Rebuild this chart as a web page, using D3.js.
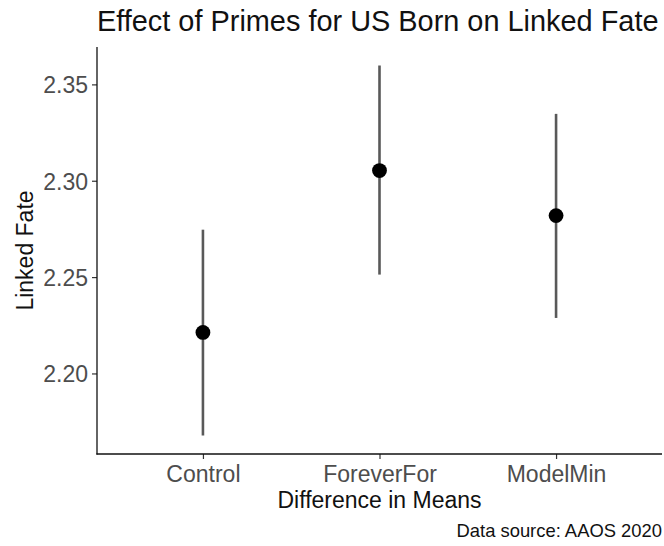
<!DOCTYPE html>
<html>
<head>
<meta charset="utf-8">
<style>
  body { margin: 0; background: #fff; }
  text { font-family: "Liberation Sans", Arial, Helvetica, sans-serif; }
</style>
</head>
<body>
<div id="vis"></div>
<script src="https://cdn.jsdelivr.net/npm/d3@7/dist/d3.min.js"></script>
<script>
  // estimates
  var groups = ['Control', 'ForeverFor', 'ModelMin'];
  var means  = [2.2213, 2.3053, 2.2819];
  var lower  = [2.1678, 2.2513, 2.2288];
  var upper  = [2.2746, 2.3598, 2.3347];
  var yTicks = [2.20, 2.25, 2.30, 2.35];

  var width = 664, height = 546;
  var m = {top: 47, right: 2, bottom: 92, left: 97};
  var w = width - m.left - m.right, h = height - m.top - m.bottom;

  var svg = d3.select('#vis').append('svg')
    .attr('width', width).attr('height', height);

  // discrete scale with 0.6 unit padding each side, like ggplot
  var x = d3.scalePoint().domain(groups).range([0, w]).padding(0.6);

  var lo = d3.min(lower), hi = d3.max(upper), pad = (hi - lo) * 0.05;
  var y = d3.scaleLinear().domain([lo - pad, hi + pad]).range([h, 0]);

  var g = svg.append('g').attr('transform', 'translate(' + m.left + ',' + m.top + ')');

  // y axis
  var yAxis = g.append('g').call(d3.axisLeft(y).tickValues(yTicks).tickFormat(d3.format('.2f')).tickSize(5).tickPadding(4));
  yAxis.select('.domain').remove();
  yAxis.selectAll('line').attr('stroke', '#333').attr('stroke-width', 1.2);
  yAxis.selectAll('text').attr('fill', '#4d4d4d').style('font-size', '23px').attr('dy', '0.36em');

  // x axis
  var xAxis = g.append('g').attr('transform', 'translate(0,' + h + ')')
    .call(d3.axisBottom(x).tickSize(5).tickPadding(6));
  xAxis.select('.domain').remove();
  xAxis.selectAll('line').attr('stroke', '#333').attr('stroke-width', 1.2);
  xAxis.selectAll('text').attr('fill', '#4d4d4d').style('font-size', '23px').attr('dy', '0.72em');

  // axis lines
  g.append('line').attr('x1', 0).attr('x2', 0).attr('y1', 0).attr('y2', h + 0.6)
    .attr('stroke', '#111').attr('stroke-width', 1.3);
  g.append('line').attr('x1', -0.6).attr('x2', w).attr('y1', h).attr('y2', h)
    .attr('stroke', '#111').attr('stroke-width', 1.3);

  // error bars
  g.selectAll('.bar').data(groups).enter().append('line')
    .attr('class', 'bar')
    .attr('x1', function(d){ return x(d); })
    .attr('x2', function(d){ return x(d); })
    .attr('y1', function(d, i){ return y(lower[i]); })
    .attr('y2', function(d, i){ return y(upper[i]); })
    .attr('stroke', '#595959').attr('stroke-width', 2.6);

  // points
  g.selectAll('.pt').data(groups).enter().append('circle')
    .attr('class', 'pt')
    .attr('cx', function(d){ return x(d); })
    .attr('cy', function(d, i){ return y(means[i]); })
    .attr('r', 7.4).attr('fill', '#000');

  // titles
  svg.append('text').attr('x', m.left).attr('y', 31)
    .style('font-size', '28.9px').attr('fill', '#111')
    .text('Effect of Primes for US Born on Linked Fate');

  svg.append('text').attr('transform', 'translate(33,' + (m.top + h / 2) + ') rotate(-90)')
    .attr('text-anchor', 'middle').style('font-size', '23px').attr('fill', '#111')
    .text('Linked Fate');

  svg.append('text').attr('x', m.left + w / 2).attr('y', 508)
    .attr('text-anchor', 'middle').style('font-size', '23px').attr('fill', '#111')
    .text('Difference in Means');

  svg.append('text').attr('x', 662).attr('y', 537)
    .attr('text-anchor', 'end').style('font-size', '18.4px').attr('fill', '#111')
    .text('Data source: AAOS 2020');
</script>
</body>
</html>
